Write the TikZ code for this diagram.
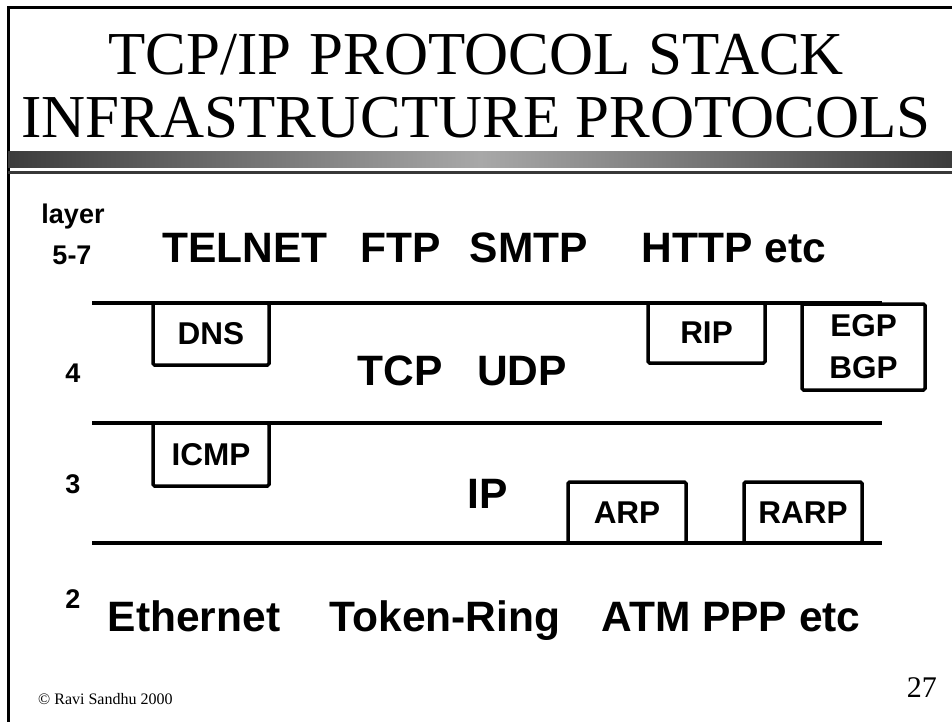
\documentclass[tikz,border=0pt]{standalone}
\usepackage{fontspec}
\setmainfont{Liberation Serif}
\setsansfont{Liberation Sans}
\usetikzlibrary{positioning}
\definecolor{bardark}{HTML}{3C3C3C}
\definecolor{barlight}{HTML}{A8A8A8}
\definecolor{barline}{HTML}{383838}

\begin{document}
\begin{tikzpicture}[
  x=1pt, y=-1pt,
  title/.style={font=\fontsize{61}{62}\selectfont, anchor=base, inner sep=0pt},
  big label/.style={font=\sffamily\bfseries\fontsize{42.5}{48}\selectfont, anchor=base, inner sep=0pt},
  layer label/.style={font=\sffamily\bfseries\fontsize{27}{30}\selectfont, anchor=base, inner sep=0pt},
  proto box/.style={draw, line width=3.5pt, rounded corners=1.5pt, inner sep=0pt,
    font=\sffamily\bfseries\fontsize{31.5}{42}\selectfont},
  layer line/.style={line width=4pt}
]
  \useasboundingbox (0,0) rectangle (952,722);

  % frame and title bar
  \draw[line width=3pt] (8,722) -- (8,8) -- (952,8);
  \shade[left color=bardark, right color=bardark, middle color=barlight] (8,152) rectangle (952,168);
  \fill[barline] (8,171) rectangle (952,174);

  \node[title] (title1) at (476,75)  {TCP/IP\hspace{0.3em}PROTOCOL\hspace{0.3em}STACK};
  \node[title] (title2) at (476,138) {INFRASTRUCTURE PROTOCOLS};

  % layer boundaries
  \draw[layer line] (92,303) -- (882,303);
  \draw[layer line] (92,423) -- (882,423);
  \draw[layer line] (92,543) -- (882,543);

  % layer numbers
  \node[layer label] (layer)  at (73,223) {layer};
  \node[layer label] (l57)    at (72,264) {5-7};
  \node[layer label] (l4)     at (73,382) {4};
  \node[layer label] (l3)     at (73,493) {3};
  \node[layer label] (l2)     at (73,608) {2};

  % layer 5-7
  \node[big label] (telnet) at (245,262) {TELNET};
  \node[big label] (ftp)    at (401,262) {FTP};
  \node[big label] (smtp)   at (529,262) {SMTP};
  \node[big label] (http)   at (734,262) {HTTP etc};

  % layer 4
  \node[proto box, minimum width=116pt, minimum height=62pt] (dns) at (211,334) {DNS};
  \node[proto box, minimum width=117pt, minimum height=60pt] (rip) at (706.5,333) {RIP};
  \node[proto box, minimum width=123pt, minimum height=86pt, align=center] (egp) at (863.5,347) {EGP\\BGP};
  \node[big label] (tcp) at (400,385) {TCP};
  \node[big label] (udp) at (522,385) {UDP};

  % layer 3
  \node[proto box, minimum width=116pt, minimum height=63pt] (icmp) at (211,454.5) {ICMP};
  \node[proto box, minimum width=118pt, minimum height=61pt] (arp)  at (627,512.5) {ARP};
  \node[proto box, minimum width=118pt, minimum height=61pt] (rarp) at (803,512.5) {RARP};
  \node[big label] (ip) at (488,508) {IP};

  % layer 2
  \node[big label] (eth)   at (194,631) {Ethernet};
  \node[big label] (token) at (445,631) {Token-Ring};
  \node[big label] (atm)   at (731,631) {ATM PPP etc};

  % footer
  \node[anchor=base west, inner sep=0pt, font=\fontsize{16}{18}\selectfont] (copy) at (38,704) {© Ravi Sandhu 2000};
  \node[anchor=base east, inner sep=0pt, font=\fontsize{30}{32}\selectfont] (page) at (937,697) {27};
\end{tikzpicture}
\end{document}
